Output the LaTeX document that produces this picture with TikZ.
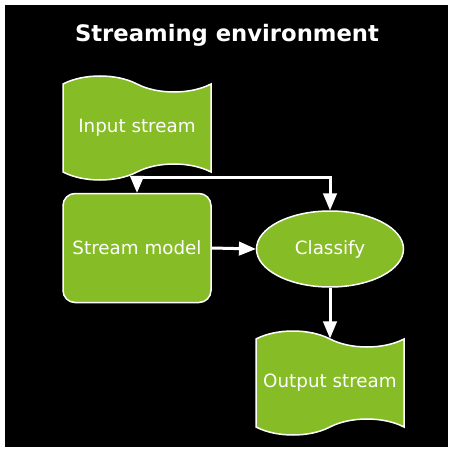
\documentclass[tikz,border=0pt]{standalone}
\usepackage{fontspec}
\setmainfont{DejaVu Sans}
\usepackage{tikz}
\usetikzlibrary{arrows,%
                shapes.symbols,%
                shapes.geometric}
\definecolor{streamgreen}{RGB}{134,188,37}

\begin{document}
\begin{tikzpicture}[x=1pt,y=-1pt]
  \useasboundingbox (0,0) rectangle (453,452);
  \fill[black] (5,5) rectangle (448,447);

  \tikzstyle{Box}=[draw=white,fill=streamgreen,line width=1.5pt,
                   text=white,font=\fontsize{18.3}{21}\selectfont]
  \tikzstyle{Tape}=[Box,tape,minimum width=148pt,minimum height=104pt,
                    tape bend top=out and in,tape bend height=16pt]
  \tikzstyle{Flow}=[draw=white,line width=3pt,-triangle 45]

  \node[text=white,font=\fontsize{22.7}{26}\bfseries\selectfont] (title) at (227,35) {Streaming environment};
  \node[Tape] (input) at (137,128) {Input stream};
  \node[Box,rounded corners=12pt,minimum width=148pt,minimum height=109pt] (model) at (137,248) {Stream model};
  \node[Box,ellipse,minimum width=147pt,minimum height=76pt] (classify) at (330,249) {Classify};
  \node[Tape] (output) at (330,383) {Output stream};

  \coordinate (split) at (137,177);
  \coordinate (turn) at (330,177);

  \draw[Flow] (split) -- (model.north);
  \draw[Flow] (split) -- (turn) -- (classify.north);
  \draw[Flow] (model.east) -- (classify.west);
  \draw[Flow] (classify.south) -- (output.north);
\end{tikzpicture}
\end{document}
